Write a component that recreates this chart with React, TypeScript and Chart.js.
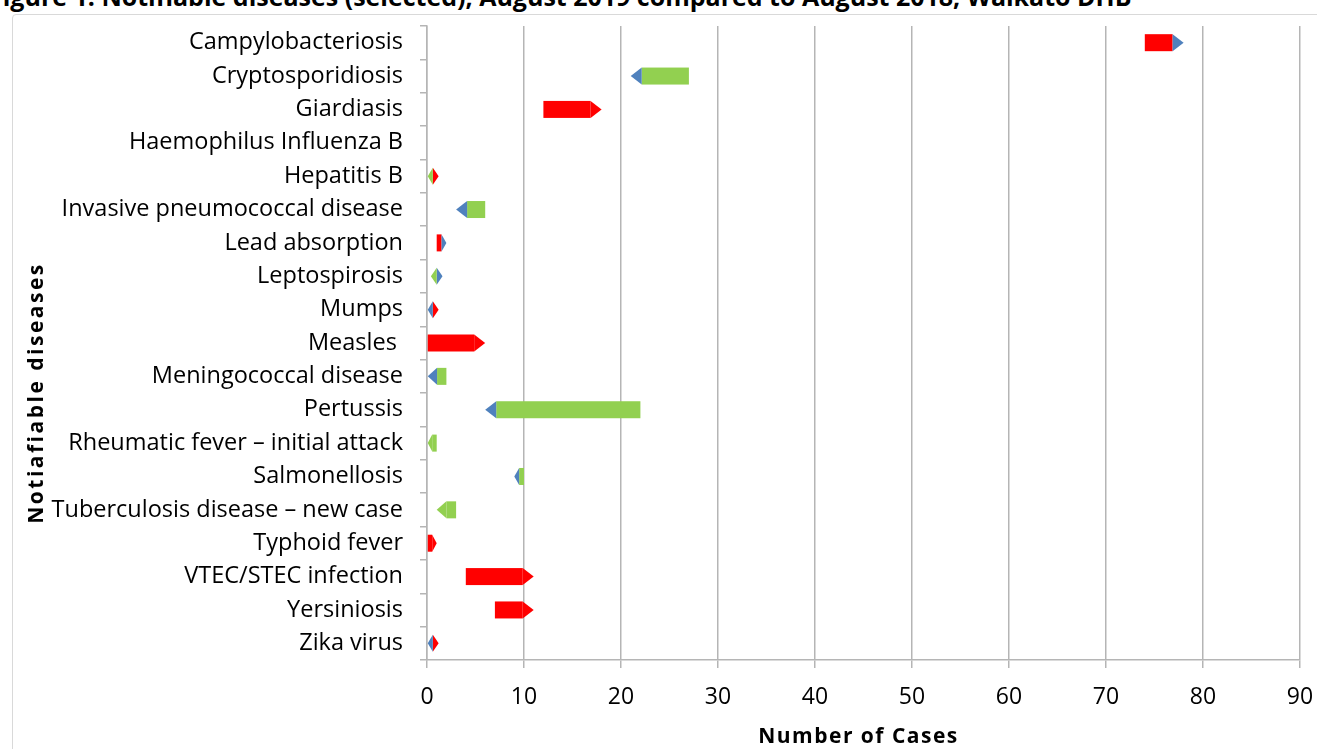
import React, { useEffect, useRef } from "react";
import { Chart, registerables } from "chart.js";

Chart.register(...registerables);

const categories = [
  "Campylobacteriosis",
  "Cryptosporidiosis",
  "Giardiasis",
  "Haemophilus Influenza B",
  "Hepatitis B",
  "Invasive pneumococcal disease",
  "Lead absorption",
  "Leptospirosis",
  "Mumps",
  "Measles ",
  "Meningococcal disease",
  "Pertussis",
  "Rheumatic fever \u2013 initial attack",
  "Salmonellosis",
  "Tuberculosis disease \u2013 new case",
  "Typhoid fever",
  "VTEC/STEC infection",
  "Yersiniosis",
  "Zika virus",
];

// Increase arrows (tail -> head, pointing right)
const increaseFrom = [74, null, 12, null, 0.6, null, 1, 1, 0.6, 0, null, null, null, null, null, 0, 4, 7, 0.6];
const increaseTo = [78, null, 18, null, 1.2, null, 2, 1.6, 1.2, 6, null, null, null, null, null, 1, 11, 11, 1.2];
// Decrease arrows (tail -> head, pointing left)
const decreaseFrom = [null, 27, null, null, 0.6, 6, null, 1, 0.6, null, 2, 22, 1, 10, 3, null, null, null, 0.6];
const decreaseTo = [null, 21, null, null, 0, 3, null, 0.4, 0, null, 0, 6, 0, 9, 1, null, null, null, 0];
// Rows whose arrow head is marked (blue head)
const increaseHeadMarked = [1, 0, 0, 0, 0, 0, 1, 1, 0, 0, 0, 0, 0, 0, 0, 0, 0, 0, 0];
const decreaseHeadMarked = [0, 1, 0, 0, 0, 1, 0, 0, 1, 0, 1, 1, 0, 1, 0, 0, 0, 0, 1];

const xTicks = [0, 10, 20, 30, 40, 50, 60, 70, 80, 90];

const TITLE = "Figure 1: Notifiable diseases (selected), August 2019 compared to August 2018, Waikato DHB";
const X_TITLE = "Number of Cases";
const Y_TITLE = "Notiafiable diseases";

const RED = "#FF0000";
const GREEN = "#92D050";
const BLUE = "#4F81BD";
const GRID = "#b5b5b5";
const FONT = "'Open Sans', 'Liberation Sans', sans-serif";

const arrowPlugin = {
  id: "arrowShapes",
  afterDatasetsDraw(chart: any) {
    const ctx = chart.ctx;
    chart.data.datasets.forEach((ds: any, di: number) => {
      const meta = chart.getDatasetMeta(di);
      const isIncrease = ds.direction === "increase";
      const marks = isIncrease ? increaseHeadMarked : decreaseHeadMarked;
      meta.data.forEach((el: any, i: number) => {
        if (ds.data[i] == null) return;
        const p = el.getProps(["x", "base", "y", "height"], true);
        const left = Math.min(p.x, p.base);
        const right = Math.max(p.x, p.base);
        const len = right - left;
        if (!(len > 0)) return;
        const top = p.y - p.height / 2;
        const bot = p.y + p.height / 2;
        const tip = len < 7 ? len : Math.min(11, len / 2);
        const body = isIncrease ? RED : GREEN;
        const head = marks[i] ? BLUE : body;
        ctx.save();
        if (isIncrease) {
          if (len - tip > 0) {
            ctx.fillStyle = body;
            ctx.fillRect(left, top, len - tip, bot - top);
          }
          ctx.fillStyle = head;
          ctx.beginPath();
          ctx.moveTo(right - tip, top);
          ctx.lineTo(right, p.y);
          ctx.lineTo(right - tip, bot);
          ctx.closePath();
          ctx.fill();
        } else {
          if (len - tip > 0) {
            ctx.fillStyle = body;
            ctx.fillRect(left + tip, top, len - tip, bot - top);
          }
          ctx.fillStyle = head;
          ctx.beginPath();
          ctx.moveTo(left + tip, top);
          ctx.lineTo(left, p.y);
          ctx.lineTo(left + tip, bot);
          ctx.closePath();
          ctx.fill();
        }
        ctx.restore();
      });
    });
  },
};

const axisTitlePlugin = {
  id: "axisTitles",
  afterDraw(chart: any) {
    const ctx = chart.ctx;
    const area = chart.chartArea;
    ctx.save();
    ctx.fillStyle = "#000";
    ctx.textAlign = "center";
    ctx.textBaseline = "middle";
    (ctx as any).letterSpacing = "1.5px";
    ctx.font = `bold 21px ${FONT}`;
    ctx.fillText(X_TITLE, (area.left + area.right) / 2 - 5, 737);
    (ctx as any).letterSpacing = "2.5px";
    ctx.translate(37, 393);
    ctx.rotate(-Math.PI / 2);
    ctx.font = `bold 21px ${FONT}`;
    ctx.fillText(Y_TITLE, 0, 0);
    ctx.restore();
  },
};

export default function App() {
  const ref = useRef<HTMLCanvasElement | null>(null);

  useEffect(() => {
    document.body.style.margin = "0";
    const canvas = ref.current;
    if (!canvas) return;
    const chart = new Chart(canvas, {
      type: "bar",
      data: {
        labels: categories,
        datasets: [
          {
            label: "Increase",
            direction: "increase",
            data: increaseFrom.map((f, i) => (f == null ? null : [f, increaseTo[i] as number])),
            backgroundColor: "rgba(0,0,0,0)",
            borderWidth: 0,
            grouped: false,
            barThickness: 17,
          } as any,
          {
            label: "Decrease",
            direction: "decrease",
            data: decreaseFrom.map((f, i) => (f == null ? null : [f, decreaseTo[i] as number])),
            backgroundColor: "rgba(0,0,0,0)",
            borderWidth: 0,
            grouped: false,
            barThickness: 17,
          } as any,
        ],
      },
      options: {
        indexAxis: "y",
        responsive: false,
        animation: false,
        layout: { padding: { top: 26, right: 17, left: 0, bottom: 0 } },
        plugins: {
          legend: { display: false },
          tooltip: { enabled: false },
        },
        scales: {
          x: {
            type: "linear",
            min: 0,
            max: 90,
            afterBuildTicks: (scale: any) => {
              scale.ticks = xTicks.map((v) => ({ value: v }));
            },
            ticks: {
              color: "#000",
              font: { family: FONT, size: 23 },
              padding: 16,
              maxRotation: 0,
            },
            grid: {
              color: GRID,
              lineWidth: 1.5,
              tickLength: 8,
              drawTicks: true,
            },
            border: { display: true, color: GRID, width: 1.5 },
            afterFit: (scale: any) => {
              scale.height = 89;
              scale.paddingLeft = 0;
              scale.paddingRight = 0;
            },
          },
          y: {
            type: "category",
            offset: true,
            ticks: {
              color: "#000",
              font: { family: FONT, size: 23.5 },
              padding: 17,
              autoSkip: false,
            },
            grid: {
              drawOnChartArea: false,
              color: GRID,
              lineWidth: 1.5,
              tickLength: 7,
              offset: true,
            },
            border: { display: true, color: GRID, width: 1.5 },
            afterFit: (scale: any) => {
              scale.width = 427;
              scale.paddingTop = 0;
              scale.paddingBottom = 0;
            },
          },
        },
      } as any,
      plugins: [arrowPlugin, axisTitlePlugin],
    });
    return () => chart.destroy();
  }, []);

  return (
    <div style={{ position: "relative", width: 1317, height: 749, overflow: "hidden", background: "#fff" }}>
      <div
        style={{
          position: "absolute",
          left: -11,
          top: -21,
          fontFamily: FONT,
          fontWeight: "bold",
          fontSize: 25,
          whiteSpace: "nowrap",
          color: "#000",
        }}
      >
        {TITLE}
      </div>
      <div
        style={{
          position: "absolute",
          left: 12,
          top: 14,
          width: 1400,
          height: 800,
          border: "1.5px solid #d9d9d9",
          borderRadius: 4,
          boxSizing: "border-box",
        }}
      />
      <canvas ref={ref} width={1317} height={749} style={{ position: "absolute", left: 0, top: 0, display: "block" }} />
    </div>
  );
}
